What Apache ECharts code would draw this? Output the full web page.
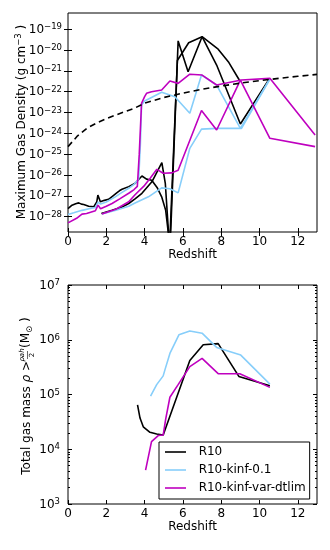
<!DOCTYPE html>
<html>
<head>
<meta charset="utf-8">
<script src="https://cdn.jsdelivr.net/npm/echarts@6/dist/echarts.min.js"></script>
<style>
  html, body { margin: 0; padding: 0; background: #fff; }
  #chart { width: 330px; height: 550px; }
</style>
</head>
<body>
<div id="chart"></div>
<script>
// values: [redshift, log10(value)]
// top panel: maximum gas density (g cm^-3), each run drawn as two passes
const densR10A = [[0.00, -27.62], [0.21, -27.45], [0.4, -27.38], [0.56, -27.34], [0.7, -27.4], [0.82, -27.42], [1.08, -27.5], [1.34, -27.53], [1.5, -27.3], [1.56, -26.97], [1.69, -27.29], [1.9, -27.22], [2.12, -27.17], [2.35, -27.0], [2.56, -26.85], [2.7, -26.75], [2.82, -26.69], [3.17, -26.56], [3.51, -26.4], [3.86, -26.05], [4.1, -26.2], [4.37, -26.25], [4.65, -26.6], [4.89, -27.05], [5.1, -27.7], [5.33, -29.5], [5.75, -19.56], [6.27, -21.04], [7.0, -19.36], [7.76, -20.72], [9.0, -23.55], [10.5, -21.4]];
const densR10B = [[1.74, -27.85], [2.3, -27.7], [2.8, -27.55], [3.17, -27.37], [3.5, -27.15], [3.86, -26.88], [4.38, -26.33], [4.9, -25.41], [5.08, -26.4], [5.3, -29.5], [5.71, -20.5], [6.3, -19.65], [7.0, -19.36], [7.84, -19.96], [8.4, -20.6], [8.95, -21.45]];
const densKinfA = [[0.0, -27.9], [0.3, -27.82], [0.73, -27.7], [1.1, -27.62], [1.43, -27.56], [1.57, -27.3], [1.7, -27.4], [2.0, -27.3], [2.47, -27.05], [2.8, -26.85], [3.17, -26.64], [3.45, -26.45], [3.69, -26.2], [3.78, -24.5], [3.84, -22.64], [4.0, -22.45], [4.89, -22.03], [5.32, -22.16], [5.58, -22.24], [6.36, -23.04], [6.97, -21.2], [7.76, -21.68], [9.0, -23.76], [10.54, -21.39]];
const densKinfB = [[1.77, -27.88], [2.5, -27.7], [3.17, -27.5], [3.5, -27.35], [4.2, -27.05], [4.89, -26.62], [5.32, -26.66], [5.75, -26.86], [6.36, -24.72], [6.97, -23.8], [7.76, -23.76], [9.06, -23.76], [10.54, -21.39]];
const densVarA = [[0.0, -28.3], [0.45, -28.08], [0.73, -27.88], [0.97, -27.85], [1.43, -27.72], [1.57, -27.45], [1.7, -27.62], [2.0, -27.5], [2.3, -27.37], [2.7, -27.15], [3.17, -26.88], [3.45, -26.7], [3.62, -26.55], [3.72, -25.0], [3.8, -23.36], [3.84, -22.56], [4.0, -22.24], [4.1, -22.08], [4.36, -22.0], [4.89, -21.92], [5.32, -21.49], [5.75, -21.6], [6.36, -21.16], [7.0, -21.2], [7.76, -21.68], [9.05, -21.44], [10.54, -21.36], [12.9, -24.08]];
const densVarB = [[1.77, -27.88], [2.5, -27.65], [3.17, -27.29], [3.5, -26.95], [4.0, -26.5], [4.3, -26.15], [4.64, -25.73], [4.71, -25.68], [4.97, -25.92], [5.42, -25.9], [5.75, -25.77], [6.97, -22.9], [7.76, -23.84], [9.0, -21.44], [10.54, -24.24], [12.9, -24.64]];
const densMean = [[0, -24.64], [0.5, -24.12], [1, -23.75], [1.5, -23.5], [2, -23.3], [2.5, -23.12], [3, -22.95], [3.5, -22.78], [4, -22.55], [5, -22.28], [6, -22.07], [7, -21.88], [8, -21.73], [9, -21.59], [10, -21.47], [11, -21.36], [12, -21.26], [13, -21.17]];

// bottom panel: total gas mass above rho_ah/2 (Msun)
const massR10 = [[3.63, 4.81], [3.76, 4.57], [3.93, 4.41], [4.28, 4.31], [4.63, 4.28], [4.97, 4.26], [6.36, 5.62], [7.06, 5.91], [7.84, 5.93], [8.92, 5.33], [10.54, 5.16]];
const massKinf = [[4.31, 4.97], [4.63, 5.18], [4.97, 5.34], [5.06, 5.45], [5.32, 5.75], [5.79, 6.09], [6.36, 6.16], [7.0, 6.12], [7.76, 5.86], [9.02, 5.72], [10.54, 5.19]];
const massVar = [[4.05, 3.62], [4.36, 4.14], [4.71, 4.25], [4.97, 4.26], [5.1, 4.55], [5.32, 4.95], [5.75, 5.18], [6.36, 5.51], [7.0, 5.66], [7.84, 5.38], [8.97, 5.38], [10.54, 5.13]];

const runNames = ['R10', 'R10-kinf-0.1', 'R10-kinf-var-dtlim'];
const redshiftTicks = [0, 2, 4, 6, 8, 10, 12];
const densityTickExps = [-28, -27, -26, -25, -24, -23, -22, -21, -20, -19];
const massTickExps = [3, 4, 5, 6, 7];

const FONT = 'DejaVu Sans';
const BLACK = '#000000';
const BLUE = '#87CEFA';
const MAGENTA = '#BF00BF';

const pow = arr => arr.map(([z, e]) => [z, Math.pow(10, e)]);
const densTicks = densityTickExps.map(e => Math.pow(10, e));
const massTicks = massTickExps.map(e => Math.pow(10, e));
const massMinor = [];
for (let e = 3; e < 7; e++) {
  for (let m = 2; m <= 9; m++) massMinor.push(m * Math.pow(10, e));
}

const powLabel = v => '{b|10}{s|' + String(Math.round(Math.log10(v))).replace('-', '\u2212') + '}';
const powRich = {
  b: { fontSize: 12, fontFamily: FONT, color: '#000', verticalAlign: 'bottom', lineHeight: 13 },
  s: { fontSize: 8.5, fontFamily: FONT, color: '#000', verticalAlign: 'top', lineHeight: 9 },
};

function xPair(gridIndex) {
  const base = {
    type: 'value', gridIndex, min: 0, max: 13,
    axisLine: { show: false }, splitLine: { show: false },
    axisTick: { inside: true, length: 4, customValues: redshiftTicks, lineStyle: { color: '#000' } },
  };
  return [
    {
      ...base, position: 'bottom',
      axisLabel: { customValues: redshiftTicks, margin: 4, color: '#000', fontSize: 12, fontFamily: FONT },
      name: 'Redshift', nameLocation: 'middle', nameGap: 17,
      nameTextStyle: { color: '#000', fontSize: 12, fontFamily: FONT, verticalAlign: 'top' },
    },
    { ...base, position: 'top', axisLabel: { show: false } },
  ];
}

function yAxis(gridIndex, position, min, max, ticks, len, labels, margin) {
  return {
    type: 'log', gridIndex, position, min, max,
    axisLine: { show: false }, splitLine: { show: false }, minorTick: { show: false },
    axisTick: { inside: true, length: len, customValues: ticks, lineStyle: { color: '#000' } },
    axisLabel: labels
      ? { customValues: ticks, margin, formatter: powLabel, rich: powRich }
      : { show: false },
  };
}

const dMin = Math.pow(10, -28.74);
const dMax = Math.pow(10, -18.22);

function line(name, data, color, xi, yi, extra) {
  return {
    name, type: 'line', data: pow(data), xAxisIndex: xi, yAxisIndex: yi,
    showSymbol: false, symbol: 'none', clip: true, animation: false,
    lineStyle: { color, width: 1.6 }, itemStyle: { color },
    ...extra,
  };
}

const chart = echarts.init(document.getElementById('chart'));
chart.setOption({
  animation: false,
  backgroundColor: '#fff',
  grid: [
    { left: 68, right: 13, top: 13, height: 219, show: true, borderColor: '#000', borderWidth: 1 },
    { left: 68, right: 13, top: 285, height: 219, show: true, borderColor: '#000', borderWidth: 1 },
  ],
  xAxis: [...xPair(0), ...xPair(1)],
  yAxis: [
    yAxis(0, 'left', dMin, dMax, densTicks, 4, true, 6),
    yAxis(0, 'right', dMin, dMax, densTicks, 4, false),
    yAxis(1, 'left', 1e3, 1e7, massTicks, 4, true, 8),
    yAxis(1, 'left', 1e3, 1e7, massMinor, 2, false),
    yAxis(1, 'right', 1e3, 1e7, massTicks, 4, false),
    yAxis(1, 'right', 1e3, 1e7, massMinor, 2, false),
  ],
  legend: {
    data: runNames, left: 159, top: 442, orient: 'vertical',
    icon: 'rect', itemWidth: 21, itemHeight: 1.6, itemGap: 6,
    padding: [4, 4, 5, 6], borderColor: '#000', borderWidth: 1,
    selectedMode: false,
    formatter: name => '  ' + name,
    textStyle: { color: '#000', fontSize: 12, fontFamily: FONT },
  },
  graphic: [
    {
      type: 'text', x: 21, y: 122, rotation: Math.PI / 2,
      style: {
        text: '{a|Maximum Gas Density (g cm}{s|\u22123}{a| )}',
        align: 'center', verticalAlign: 'middle',
        rich: {
          a: { fontSize: 12, fontFamily: FONT, fill: '#000', verticalAlign: 'bottom', lineHeight: 14 },
          s: { fontSize: 8.5, fontFamily: FONT, fill: '#000', verticalAlign: 'top', lineHeight: 9 },
        },
      },
    },
    {
      type: 'group', x: 27, y: 399, rotation: Math.PI / 2,
      children: [
        {
          type: 'text', x: 38, y: 0,
          style: {
            text: '{a|Total gas mass }{i|\u03c1}{a| >}', align: 'right', verticalAlign: 'middle',
            rich: {
              a: { fontSize: 12, fontFamily: FONT, fill: '#000' },
              i: { fontSize: 12, fontFamily: FONT, fontStyle: 'italic', fill: '#000' },
            },
          },
        },
        { type: 'text', x: 44, y: -4.5, style: { text: '\u03c1ah', align: 'center', verticalAlign: 'middle', fontSize: 7, fontStyle: 'italic', fontFamily: FONT, fill: '#000' } },
        { type: 'line', shape: { x1: 40, y1: 0.5, x2: 48, y2: 0.5 }, style: { stroke: '#000', lineWidth: 0.6 } },
        { type: 'text', x: 44, y: 5.5, style: { text: '2', align: 'center', verticalAlign: 'middle', fontSize: 7, fontFamily: FONT, fill: '#000' } },
        {
          type: 'text', x: 51, y: 0,
          style: {
            text: '{a|(M}{s|\u2299}{a| )}', align: 'left', verticalAlign: 'middle',
            rich: {
              a: { fontSize: 12, fontFamily: FONT, fill: '#000', verticalAlign: 'top', lineHeight: 14 },
              s: { fontSize: 8.5, fontFamily: FONT, fill: '#000', verticalAlign: 'bottom', lineHeight: 9 },
            },
          },
        },
      ],
    },
  ],
  series: [
    line(runNames[0], densR10A, BLACK, 0, 0),
    line(runNames[0], densR10B, BLACK, 0, 0),
    line(runNames[1], densKinfA, BLUE, 0, 0),
    line(runNames[1], densKinfB, BLUE, 0, 0),
    line(runNames[2], densVarA, MAGENTA, 0, 0),
    line(runNames[2], densVarB, MAGENTA, 0, 0),
    line('mean density', densMean, BLACK, 0, 0, { lineStyle: { color: BLACK, width: 1.6, type: [6, 4] } }),
    line(runNames[0], massR10, BLACK, 2, 2),
    line(runNames[1], massKinf, BLUE, 2, 2),
    line(runNames[2], massVar, MAGENTA, 2, 2),
  ],
});
</script>
</body>
</html>
